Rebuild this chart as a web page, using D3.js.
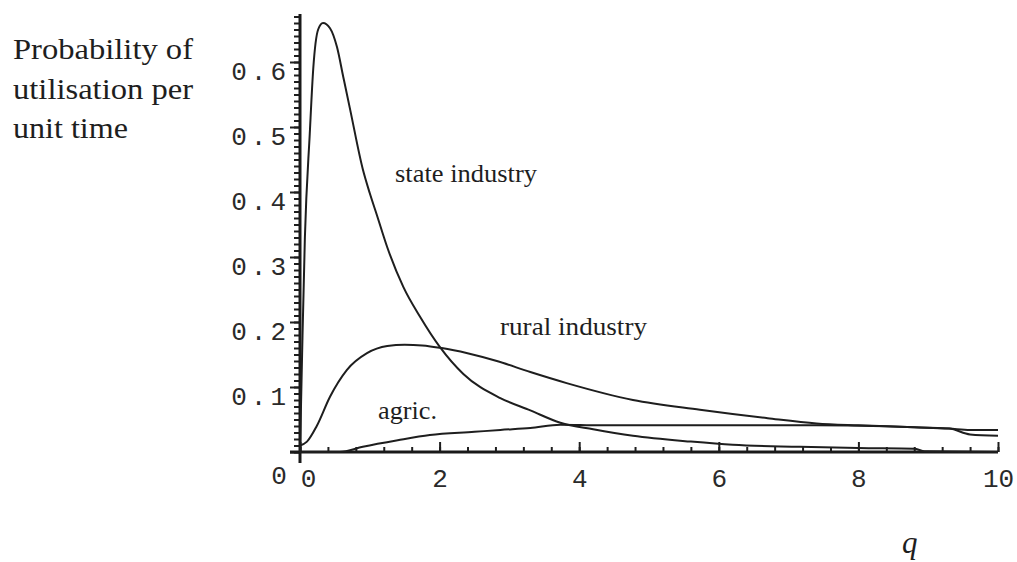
<!DOCTYPE html>
<html>
<head>
<meta charset="utf-8">
<script src="https://cdn.jsdelivr.net/npm/d3@7"></script>
<style>
    body { margin: 0; background: #fff; }
    .curve { fill: none; stroke: #1e1e1e; stroke-width: 2; stroke-linejoin: round; }
    .tick line { stroke: #1e1e1e; stroke-width: 2; }
    .tick text { font-family: "Liberation Mono", monospace; font-size: 26px; fill: #2a2a2a; }
    .lbl { font-family: "Liberation Serif", serif; fill: #1e1e1e; }
</style>
</head>
<body>
<div id="chart-display"></div>
<script>
// values
//==========================================================================================================
var stateQ = [0, 0.03, 0.07, 0.14, 0.19, 0.26, 0.33, 0.43, 0.53, 0.62, 0.72, 0.9, 1.0, 1.1, 1.25, 1.48, 1.72, 2.0, 2.34, 2.87, 3.3, 3.73, 4.2, 4.77, 5.6, 6.2, 7.16, 8.0, 8.8, 8.95, 10];
var stateP = [0, 0.15, 0.33, 0.49, 0.59, 0.65, 0.66, 0.652, 0.623, 0.577, 0.526, 0.435, 0.398, 0.365, 0.315, 0.254, 0.208, 0.162, 0.12, 0.083, 0.064, 0.045, 0.035, 0.025, 0.016, 0.011, 0.008, 0.006, 0.005, 0.001, 0];

var ruralQ = [0, 0.1, 0.24, 0.43, 0.67, 0.96, 1.25, 1.5, 1.75, 2.03, 2.4, 2.82, 3.3, 3.82, 4.77, 5.73, 6.7, 7.4, 8.0, 8.8, 9.3, 9.6, 10];
var ruralP = [0.01, 0.016, 0.04, 0.085, 0.126, 0.152, 0.163, 0.165, 0.164, 0.16, 0.152, 0.14, 0.123, 0.106, 0.08, 0.065, 0.052, 0.044, 0.041, 0.038, 0.036, 0.027, 0.025];

var agricQ = [0, 0.57, 0.9, 1.4, 1.86, 2.5, 2.87, 3.3, 3.73, 4.3, 6.0, 7.4, 8.8, 9.3, 9.6, 10];
var agricP = [0, 0, 0.008, 0.018, 0.026, 0.031, 0.034, 0.037, 0.042, 0.041, 0.041, 0.041, 0.038, 0.036, 0.034, 0.034];

var xTicks = [0, 2, 4, 6, 8, 10];
var yTicks = [0, 0.1, 0.2, 0.3, 0.4, 0.5, 0.6];
var yTickLabels = ["", "0.1", "0.2", "0.3", "0.4", "0.5", "0.6"];

var yTitle = ["Probability of", "utilisation per", "unit time"];
var curveLabels = ["state industry", "rural industry", "agric."];

//==========================================================================================================
var width = 1017,
    height = 562;

var svg = d3.select("#chart-display").append("svg")
    .attr("width", width).attr("height", height)
    .style("background", "#fff");

var xScale = d3.scaleLinear().domain([0, 10]).range([300, 998]);
var yScale = d3.scaleLinear().domain([0, 0.6]).range([452, 62]);

// minor ticks every 0.01 up the y axis, every 0.4 along q
var yMinor = d3.range(0, 68).map(function (i) { return i / 100; });
var xMinor = d3.range(0, 26).map(function (i) { return i * 0.4; });

svg.append("g").attr("transform", "translate(" + xScale(0) + ",0)")
    .call(d3.axisLeft(yScale).tickValues(yMinor).tickSize(6).tickFormat(""))
    .select(".domain").remove();

var yAxis = svg.append("g").attr("transform", "translate(" + xScale(0) + ",0)")
    .call(d3.axisLeft(yScale).tickValues(yTicks).tickSize(10)
        .tickFormat(function (d, i) { return yTickLabels[i]; }));
yAxis.select(".domain").remove();
yAxis.selectAll("text").attr("x", -10).attr("dy", 17).style("letter-spacing", "4px");

svg.append("g").attr("transform", "translate(0," + yScale(0) + ")")
    .call(d3.axisBottom(xScale).tickValues(xMinor).tickSize(-5).tickFormat(""))
    .select(".domain").remove();

var xAxis = svg.append("g").attr("transform", "translate(0," + yScale(0) + ")")
    .call(d3.axisBottom(xScale).tickValues(xTicks).tickSize(-10));
xAxis.select(".domain").remove();
xAxis.selectAll("text").attr("y", 35).attr("dy", 0)
    .attr("dx", function (d) { return d === 0 ? 8 : 0; });

// axis lines
svg.append("line")
    .attr("x1", xScale(0)).attr("x2", xScale(0))
    .attr("y1", yScale(0.674)).attr("y2", yScale(0) + 11)
    .style("stroke", "#1a1a1a").style("stroke-width", 3);
svg.append("line")
    .attr("x1", xScale(0) - 10).attr("x2", xScale(10))
    .attr("y1", yScale(0)).attr("y2", yScale(0))
    .style("stroke", "#1a1a1a").style("stroke-width", 3);

// origin label on the y side
svg.append("text")
    .attr("x", xScale(0) - 21).attr("y", yScale(0) + 32)
    .attr("text-anchor", "middle")
    .style("font-family", "Liberation Mono, monospace").style("font-size", "26px").style("fill", "#2a2a2a")
    .text("0");

//==========================================================================================================
var line = d3.line()
    .x(function (d) { return xScale(d.q); })
    .y(function (d) { return yScale(d.p); })
    .curve(d3.curveMonotoneX);

function toPoints(qs, ps) {
    return qs.map(function (q, i) { return { q: q, p: ps[i] }; });
}

svg.append("path").attr("class", "curve").attr("d", line(toPoints(agricQ, agricP)));
svg.append("path").attr("class", "curve").attr("d", line(toPoints(ruralQ, ruralP)));
svg.append("path").attr("class", "curve").attr("d", line(toPoints(stateQ, stateP)));

// labels
var titleWidths = [180, 180, 115];
yTitle.forEach(function (t, i) {
    svg.append("text").attr("class", "lbl")
        .attr("x", 13).attr("y", 59 + i * 39.5)
        .attr("textLength", titleWidths[i]).attr("lengthAdjust", "spacingAndGlyphs")
        .style("font-size", "30px")
        .text(t);
});

var labelPos = [[395, 182, 142], [500, 335, 147], [378, 419, 59]];
curveLabels.forEach(function (t, i) {
    svg.append("text").attr("class", "lbl")
        .attr("x", labelPos[i][0]).attr("y", labelPos[i][1])
        .attr("textLength", labelPos[i][2]).attr("lengthAdjust", "spacingAndGlyphs")
        .style("font-size", "26px")
        .text(t);
});

svg.append("text").attr("class", "lbl")
    .attr("x", 902).attr("y", 553)
    .style("font-size", "31px").style("font-style", "italic")
    .text("q");
</script>
</body>
</html>
